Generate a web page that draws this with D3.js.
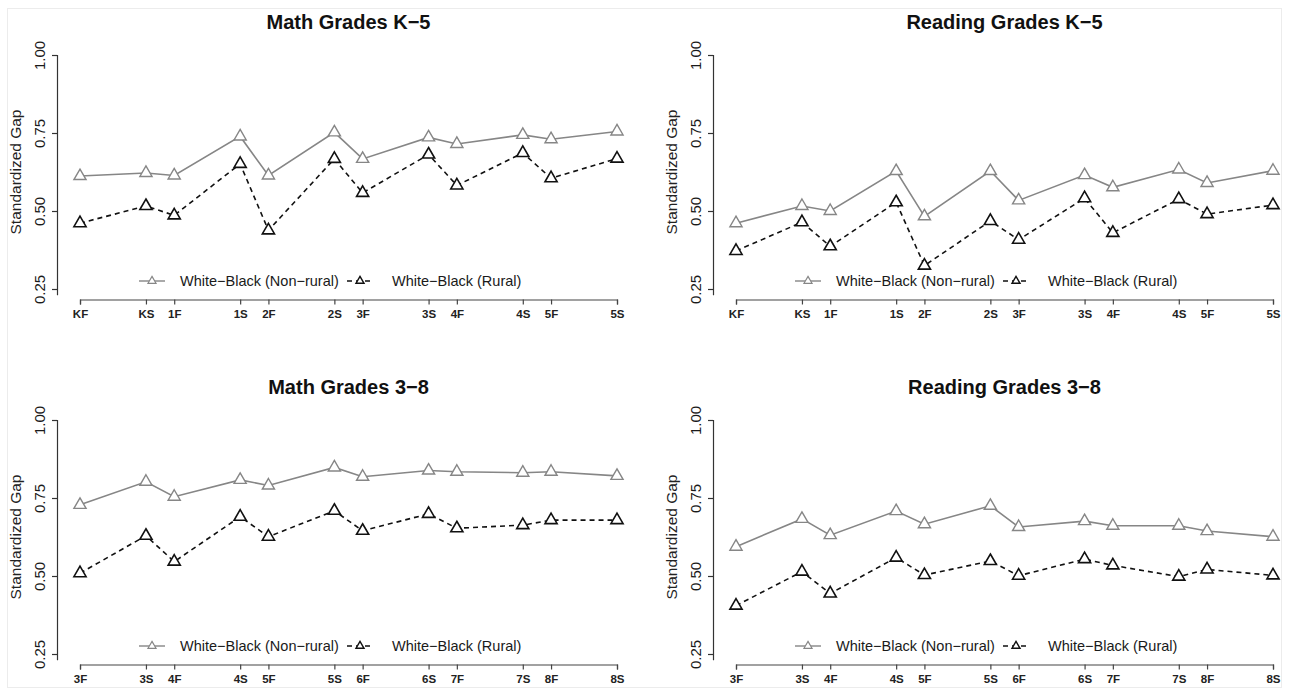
<!DOCTYPE html>
<html>
<head>
<meta charset="utf-8">
<script src="https://cdn.jsdelivr.net/npm/d3@7"></script>
<style>
  html, body { margin: 0; padding: 0; background: #fff; }
  svg { display: block; font-family: "Liberation Sans", Arial, Helvetica, sans-serif; }
</style>
</head>
<body>
<script>
// ---------- DATA ----------
const titles = ["Math Grades K\u22125", "Reading Grades K\u22125", "Math Grades 3\u22128", "Reading Grades 3\u22128"];
const legendLabels = ["White\u2212Black (Non\u2212rural)", "White\u2212Black (Rural)"];
const yAxisTitle = "Standardized Gap";
const yTicks = [0.25, 0.50, 0.75, 1.00];

const gradesK5 = ["KF","KS","1F","1S","2F","2S","3F","3S","4F","4S","5F","5S"];
const timeK5   = [0, 0.7, 1, 1.7, 2, 2.7, 3, 3.7, 4, 4.7, 5, 5.7];
const grades38 = ["3F","3S","4F","4S","5F","5S","6F","6S","7F","7S","8F","8S"];
const time38   = [3, 3.7, 4, 4.7, 5, 5.7, 6, 6.7, 7, 7.7, 8, 8.7];

const mathK5NonRural = [0.612, 0.622, 0.614, 0.739, 0.614, 0.752, 0.667, 0.736, 0.715, 0.744, 0.730, 0.755];
const mathK5Rural    = [0.461, 0.516, 0.486, 0.651, 0.438, 0.667, 0.558, 0.681, 0.582, 0.686, 0.605, 0.668];
const readK5NonRural = [0.461, 0.516, 0.500, 0.628, 0.483, 0.628, 0.534, 0.615, 0.576, 0.633, 0.590, 0.629];
const readK5Rural    = [0.372, 0.464, 0.387, 0.528, 0.325, 0.468, 0.408, 0.541, 0.430, 0.538, 0.490, 0.519];
const math38NonRural = [0.728, 0.802, 0.754, 0.808, 0.790, 0.848, 0.818, 0.838, 0.834, 0.831, 0.834, 0.821];
const math38Rural    = [0.509, 0.629, 0.546, 0.690, 0.626, 0.709, 0.645, 0.699, 0.653, 0.663, 0.679, 0.679];
const read38NonRural = [0.594, 0.683, 0.631, 0.708, 0.666, 0.725, 0.657, 0.676, 0.661, 0.661, 0.644, 0.626];
const read38Rural    = [0.405, 0.514, 0.444, 0.559, 0.503, 0.548, 0.501, 0.554, 0.534, 0.498, 0.521, 0.502];

// ---------- LAYOUT ----------
const W = 1289, H = 691;
const GRAY = "#868686", BLACK = "#111";
const panels = [
  { title: titles[0], cats: gradesK5, t: timeK5, nr: mathK5NonRural, r: mathK5Rural, col: 0, row: 0 },
  { title: titles[1], cats: gradesK5, t: timeK5, nr: readK5NonRural, r: readK5Rural, col: 1, row: 0 },
  { title: titles[2], cats: grades38, t: time38, nr: math38NonRural, r: math38Rural, col: 0, row: 1 },
  { title: titles[3], cats: grades38, t: time38, nr: read38NonRural, r: read38Rural, col: 1, row: 1 }
];
const colX = [0, 656], rowY = [0, 365];

const svg = d3.select("body").append("svg").attr("width", W).attr("height", H);
svg.append("rect").attr("width", W).attr("height", H).attr("fill", "#fff");
svg.append("rect").attr("x", 7.5).attr("y", 8.5).attr("width", 1274).attr("height", 679)
   .attr("fill", "none").attr("stroke", "#ececec");

const triBig = d3.symbol().type(d3.symbolTriangle).size(64);
const triSmall = d3.symbol().type(d3.symbolTriangle).size(28);

panels.forEach(p => {
  const g = svg.append("g").attr("transform", `translate(${colX[p.col]},${rowY[p.row]})`);
  const x = d3.scaleLinear().domain([p.t[0], p.t[p.t.length - 1]]).range([80, 617]);
  const y = d3.scaleLinear().domain([0.25, 1]).range([289, 55]);

  // title
  g.append("text").attr("x", (x.range()[0] + x.range()[1]) / 2).attr("y", 29)
    .attr("text-anchor", "middle").attr("font-size", 20).attr("font-weight", "bold")
    .attr("fill", "#111").text(p.title);

  // y axis title
  g.append("text").attr("transform", `translate(16,${(y(1) + y(0.25)) / 2}) rotate(-90)`)
    .attr("dy", "0.35em").attr("text-anchor", "middle").attr("font-size", 15.5)
    .attr("fill", "#222").text(yAxisTitle);

  // x axis
  const xa = g.append("g").attr("transform", "translate(0,299.5)")
    .call(d3.axisBottom(x).tickValues(p.t).tickFormat(d => p.cats[p.t.indexOf(d)])
      .tickSizeOuter(0).tickSize(5).tickPadding(5));
  xa.select(".domain").attr("stroke", "#444").attr("stroke-width", 1.2);
  xa.selectAll(".tick line").attr("stroke", "#444").attr("stroke-width", 1.2);
  xa.selectAll(".tick text").attr("font-size", 11.5).attr("font-weight", "bold")
    .attr("fill", "#222").attr("font-family", "'Liberation Sans', Arial, sans-serif");

  // y axis
  const ya = g.append("g").attr("transform", "translate(57,0)")
    .call(d3.axisLeft(y).tickValues(yTicks).tickFormat(d3.format(".2f")).tickSizeOuter(0).tickSize(5));
  ya.select(".domain").attr("d", `M0.5,${y(1)}V${y(0.23)}`).attr("stroke", "#333").attr("stroke-width", 1.2);
  ya.selectAll(".tick line").attr("stroke", "#333").attr("stroke-width", 1.2);
  ya.selectAll(".tick text").attr("x", null).attr("dy", "0.35em")
    .attr("transform", "translate(-17,0) rotate(-90)").attr("text-anchor", "middle")
    .attr("font-size", 15).attr("fill", "#1a1a1a")
    .attr("font-family", "'Liberation Sans', Arial, sans-serif");

  const line = d3.line().x((d, i) => x(p.t[i])).y(d => y(d));

  // non-rural (gray solid)
  g.append("path").datum(p.nr).attr("d", line).attr("fill", "none")
    .attr("stroke", GRAY).attr("stroke-width", 1.6);
  // rural (black dashed)
  g.append("path").datum(p.r).attr("d", line).attr("fill", "none")
    .attr("stroke", BLACK).attr("stroke-width", 1.6).attr("stroke-dasharray", "5,4");

  g.selectAll(".mnr").data(p.nr).enter().append("path")
    .attr("transform", (d, i) => `translate(${x(p.t[i])},${y(d)})`)
    .attr("d", triBig).attr("fill", "#fff").attr("stroke", GRAY).attr("stroke-width", 1.4);
  g.selectAll(".mr").data(p.r).enter().append("path")
    .attr("transform", (d, i) => `translate(${x(p.t[i])},${y(d)})`)
    .attr("d", triBig).attr("fill", "#fff").attr("stroke", BLACK).attr("stroke-width", 1.6);

  // legend
  const lg = g.append("g").attr("transform", "translate(0,281)");
  lg.append("line").attr("x1", 139).attr("x2", 165).attr("stroke", GRAY).attr("stroke-width", 1.4);
  lg.append("path").attr("transform", "translate(152,0)").attr("d", triSmall)
    .attr("fill", "#fff").attr("stroke", GRAY).attr("stroke-width", 1.2);
  lg.append("text").attr("x", 180).attr("dy", "0.36em").attr("font-size", 14.5)
    .attr("fill", "#1a1a1a").text(legendLabels[0]);
  lg.append("line").attr("x1", 347).attr("x2", 373).attr("stroke", BLACK)
    .attr("stroke-width", 1.4).attr("stroke-dasharray", "5,4");
  lg.append("path").attr("transform", "translate(360,0)").attr("d", triSmall)
    .attr("fill", "#fff").attr("stroke", BLACK).attr("stroke-width", 1.4);
  lg.append("text").attr("x", 392).attr("dy", "0.36em").attr("font-size", 14.5)
    .attr("fill", "#1a1a1a").text(legendLabels[1]);
});
</script>
</body>
</html>
